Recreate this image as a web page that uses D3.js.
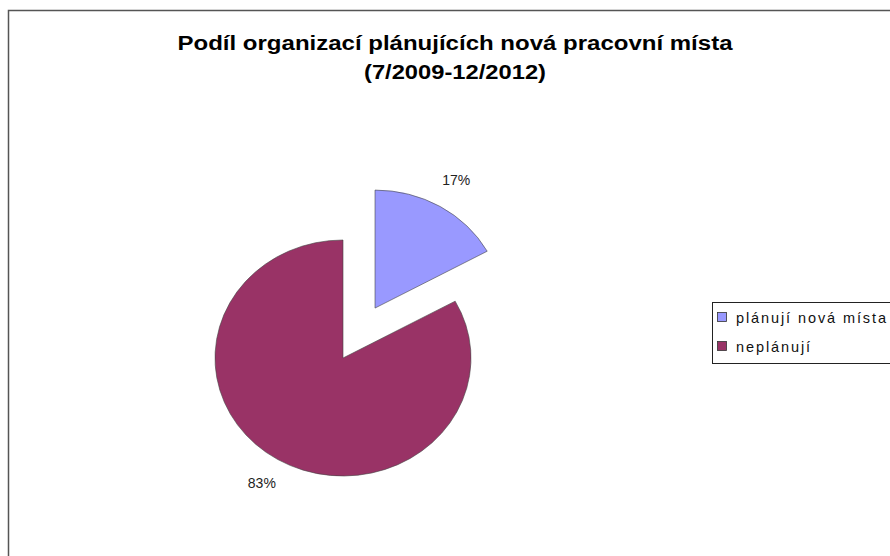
<!DOCTYPE html>
<html>
<head>
<meta charset="utf-8">
<script src="https://cdn.jsdelivr.net/npm/d3@7"></script>
<style>
  body { margin: 0; background: #fff; }
  svg { display: block; font-family: "Liberation Sans", Arial, sans-serif; }
</style>
</head>
<body>
<div id="chart"></div>
<script>
// categories and shares (%)
var categories = ["plánují nová místa", "neplánují"];
var values = [17, 83];
var colors = ["#9999ff", "#993366"];
var titleLines = ["Podíl organizací plánujících nová pracovní místa", "(7/2009-12/2012)"];

var width = 890, height = 556;

var svg = d3.select("#chart")
  .append("svg")
    .attr("width", width)
    .attr("height", height);

// chart area frame (right and bottom edges fall outside the window)
svg.append("rect")
  .attr("x", 8.5).attr("y", 10.5)
  .attr("width", 900).attr("height", 580)
  .attr("fill", "#fff")
  .attr("stroke", "#555")
  .attr("stroke-width", 1.5);

// title
var titleLen = [555, 182];
svg.selectAll(".title")
  .data(titleLines)
  .enter()
  .append("text")
    .attr("class", "title")
    .attr("x", 455)
    .attr("y", function(d, i) { return 50 + i * 29; })
    .attr("text-anchor", "middle")
    .attr("font-size", 20)
    .attr("font-weight", "bold")
    .attr("textLength", function(d, i) { return titleLen[i]; })
    .attr("lengthAdjust", "spacingAndGlyphs")
    .attr("fill", "#000")
    .text(function(d) { return d; });

// pie (slightly stretched horizontally, like the original)
var r = 118, sx = 128 / 118, explode = 58;
var data = categories.map(function(c, i) { return {name: c, value: values[i], color: colors[i]}; });

var pie = d3.pie().sort(null).value(function(d) { return d.value; });
var arc = d3.arc().innerRadius(0).outerRadius(r);
var labelArc = d3.arc().innerRadius(147).outerRadius(147);

var g = svg.append("g")
  .attr("transform", "translate(343,358) scale(" + sx + ",1)");

var arcs = pie(data);

function offset(d, i) {
  if (i !== 0) return [0, 0];
  var a = (d.startAngle + d.endAngle) / 2;
  return [explode * Math.sin(a), -explode * Math.cos(a)];
}

g.selectAll("path")
  .data(arcs)
  .enter()
  .append("path")
    .attr("d", arc)
    .attr("transform", function(d, i) { var o = offset(d, i); return "translate(" + o[0] + "," + o[1] + ")"; })
    .attr("fill", function(d) { return d.data.color; })
    .attr("stroke", "#444")
    .attr("stroke-width", 0.6)
    .attr("vector-effect", "non-scaling-stroke");

// percentage labels (kept unscaled)
svg.selectAll(".pct")
  .data(arcs)
  .enter()
  .append("text")
    .attr("class", "pct")
    .attr("x", function(d, i) { return 343 + sx * (labelArc.centroid(d)[0] + offset(d, i)[0]); })
    .attr("y", function(d, i) { return 358 + labelArc.centroid(d)[1] + offset(d, i)[1]; })
    .attr("text-anchor", "middle")
    .attr("dominant-baseline", "middle")
    .attr("font-size", 14)
    .attr("fill", "#222")
    .text(function(d) { return d.data.value + "%"; });

// legend
var legend = svg.append("g").attr("transform", "translate(712,302)");
legend.append("rect")
  .attr("x", 0.5).attr("y", 0.5)
  .attr("width", 200).attr("height", 61)
  .attr("fill", "#fff")
  .attr("stroke", "#222")
  .attr("stroke-width", 1);

var item = legend.selectAll(".item")
  .data(data)
  .enter()
  .append("g")
    .attr("class", "item")
    .attr("transform", function(d, i) { return "translate(0," + (16 + i * 29) + ")"; });

item.append("rect")
  .attr("x", 5.5).attr("y", -5.5)
  .attr("width", 9).attr("height", 9)
  .attr("fill", function(d) { return d.color; })
  .attr("stroke", "#333")
  .attr("stroke-width", 0.8);

item.append("text")
  .attr("x", 24)
  .attr("y", 5)
  .attr("font-size", 14.5)
  .attr("letter-spacing", 1.9)
  .attr("fill", "#111")
  .text(function(d) { return d.name; });
</script>
</body>
</html>
